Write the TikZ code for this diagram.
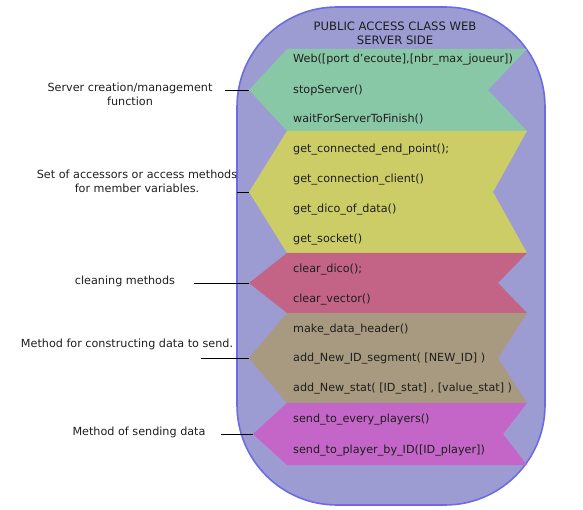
\documentclass[tikz,border=0pt]{standalone}
\usepackage{fontspec}
\setmainfont{DejaVu Sans}
\usetikzlibrary{calc}

\definecolor{shellfill}{RGB}{156,156,211}
\definecolor{shellline}{RGB}{108,108,226}
\definecolor{bandgreen}{RGB}{137,200,167}
\definecolor{bandyellow}{RGB}{205,205,103}
\definecolor{bandrose}{RGB}{195,100,135}
\definecolor{bandtan}{RGB}{168,154,128}
\definecolor{bandmagenta}{RGB}{196,102,200}
\definecolor{ink}{RGB}{30,30,30}

\tikzset{
  lbl/.style={align=center, text=ink, inner sep=0pt, font=\fontsize{11.2}{14}\selectfont},
  item/.style={anchor=west, text=ink, inner sep=0pt, font=\fontsize{11.2}{13}\selectfont},
  lead/.style={draw=black, line width=0.8pt}
}

\begin{document}
\begin{tikzpicture}[x=1pt,y=-1pt]
            \useasboundingbox (0,0) rectangle (583,510);
            % outer class shape
            \draw[fill=shellfill, draw=shellline, line width=1.6pt, rounded corners=100pt] (237,7) rectangle (545,505);
            \node[lbl, font=\fontsize{11.6}{14}\selectfont] (title) at (395,33) {PUBLIC ACCESS CLASS WEB\\SERVER SIDE};

            % bands
            \fill[bandgreen] (287,49) -- (527,49) -- (488,90) -- (527,131) -- (287,131) -- (249,90) coordinate (tipsrv) -- cycle;
            \fill[bandyellow] (287,131) -- (527,131) -- (493,192) -- (527,253) -- (287,253) -- (249,192) coordinate (tipacc) -- cycle;
            \fill[bandrose] (287,253) -- (527,253) -- (498,283) -- (527,313) -- (287,313) -- (249,283) coordinate (tipcln) -- cycle;
            \fill[bandtan] (287,313) -- (527,313) -- (498,358) -- (527,403) -- (287,403) -- (249,358) coordinate (tipbld) -- cycle;
            \fill[bandmagenta] (287,403) -- (527,403) -- (503,434) -- (527,465) -- (287,465) -- (253,434) coordinate (tipsnd) -- cycle;

            % methods
            \node[item] (web) at (293,60) {Web([port d'ecoute],[nbr\_max\_joueur])};
            \node[item] (stop) at (293,90) {stopServer()};
            \node[item] (wait) at (293,119) {waitForServerToFinish()};
            \node[item] (getend) at (293,150) {get\_connected\_end\_point();};
            \node[item] (getcli) at (293,180) {get\_connection\_client()};
            \node[item] (getdico) at (293,210) {get\_dico\_of\_data()};
            \node[item] (getsock) at (293,240) {get\_socket()};
            \node[item] (clrdico) at (293,270) {clear\_dico();};
            \node[item] (clrvec) at (293,300) {clear\_vector()};
            \node[item] (mkhead) at (293,330) {make\_data\_header()};
            \node[item] (addid) at (293,359) {add\_New\_ID\_segment( [NEW\_ID] )};
            \node[item] (addstat) at (293,389) {add\_New\_stat( [ID\_stat] , [value\_stat] )};
            \node[item] (sendall) at (293,420) {send\_to\_every\_players()};
            \node[item] (sendone) at (293,451) {send\_to\_player\_by\_ID([ID\_player])};

            % side notes
            \node[lbl] (srv) at (130,94) {Server creation/management\\function};
            \node[lbl] (acc) at (137,181) {Set of accessors or access methods\\for member variables.};
            \node[lbl] (cln) at (125,281) {cleaning methods};
            \node[lbl] (bld) at (127,344) {Method for constructing data to send.};
            \node[lbl] (snd) at (139,432) {Method of sending data};

            \coordinate (srvend) at (225,90);
            \coordinate (accend) at (237,192);
            \coordinate (clnend) at (194,283);
            \coordinate (bldend) at (201,358);
            \coordinate (sndend) at (221,434);
            \draw[lead] (srvend) -- (tipsrv);
            \draw[lead] (accend) -- (tipacc);
            \draw[lead] (clnend) -- (tipcln);
            \draw[lead] (bldend) -- (tipbld);
            \draw[lead] (sndend) -- (tipsnd);
        \end{tikzpicture}
\end{document}
